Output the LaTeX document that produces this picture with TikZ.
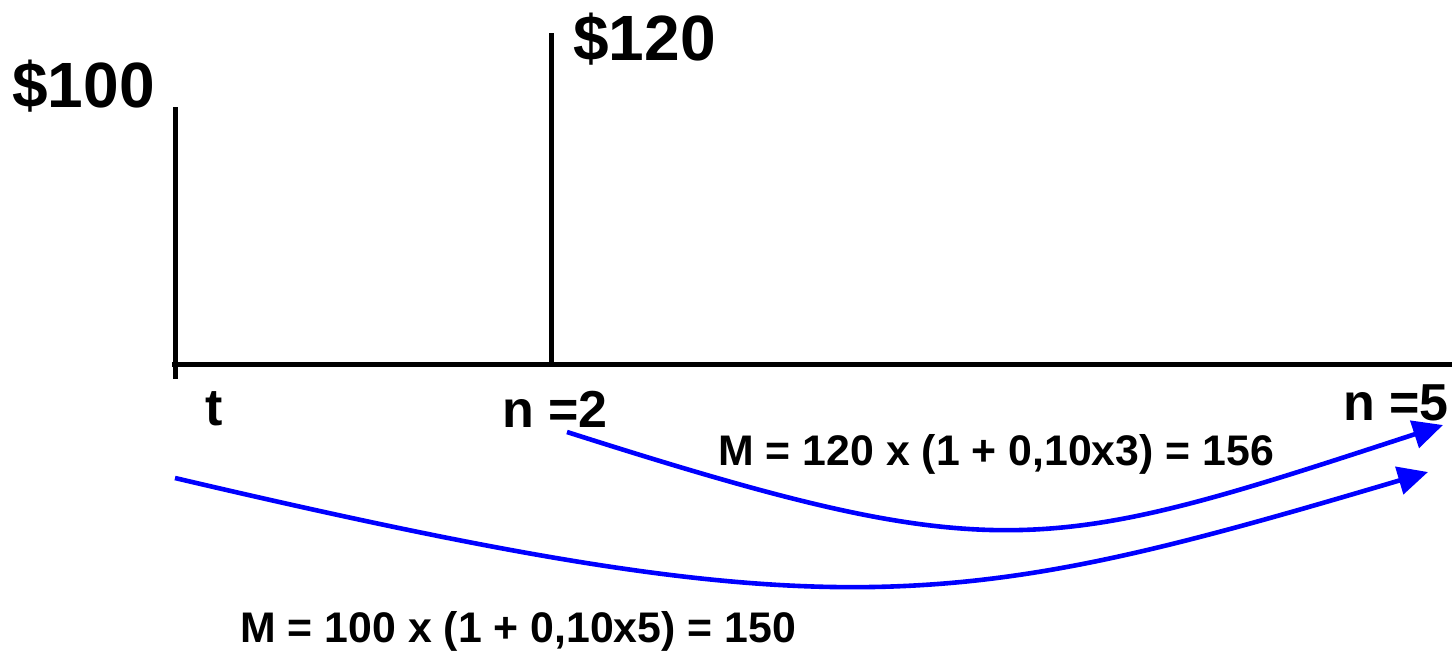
\documentclass[tikz,border=0pt]{standalone}
\usepackage{fontspec}
\setmainfont{Liberation Sans}
\usetikzlibrary{arrows.meta}
\begin{document}
\begin{tikzpicture}[x=0.5pt,y=-0.5pt,
  axisline/.style={line width=2.5pt,black},
  flow/.style={line width=2.3pt,color={rgb,255:red,0;green,0;blue,255},-{Triangle[length=15pt,width=14pt]}},
  big/.style={inner sep=0pt,anchor=base west,font=\fontsize{32}{36}\selectfont\bfseries},
  mid/.style={inner sep=0pt,anchor=base west,font=\fontsize{26}{30}\selectfont\bfseries},
  formula/.style={inner sep=0pt,anchor=base west,font=\fontsize{21.4}{25}\selectfont\bfseries}]
\useasboundingbox (0,0) rectangle (1452,655);
% axis
\coordinate (axL) at (172,364);
\coordinate (axR) at (1452,364);
\coordinate (t0top) at (175,107);
\coordinate (t0bot) at (175,379);
\coordinate (t2top) at (551,33);
\coordinate (t2bot) at (551,364);
\draw[axisline] (axL) -- (axR);
\draw[axisline] (t0top) -- (t0bot);
\draw[axisline] (t2top) -- (t2bot);
% labels
\node[big] (p100) at (12,107) {\$100};
\node[big] (p120) at (573,60) {\$120};
\node[mid] (lt) at (205,425) {t};
\node[mid] (ln2) at (502,427) {n =2};
\node[mid] (ln5) at (1343,420) {n =5};
\node[formula] (f1) at (718,465) {M = 120 x (1 + 0,10x3) = 156};
\node[formula] (f2) at (240,642) {M = 100 x (1 + 0,10x5) = 150};
% arrows
\coordinate (a1s) at (567,432);
\coordinate (a1e) at (1443,425);
\coordinate (a2s) at (175,478);
\coordinate (a2e) at (1428,472);
\draw[flow] (a1s) .. controls (1000,570) and (1045,555) .. (a1e);
\draw[flow] (a2s) .. controls (840,634) and (955,612) .. (a2e);
\end{tikzpicture}
\end{document}
